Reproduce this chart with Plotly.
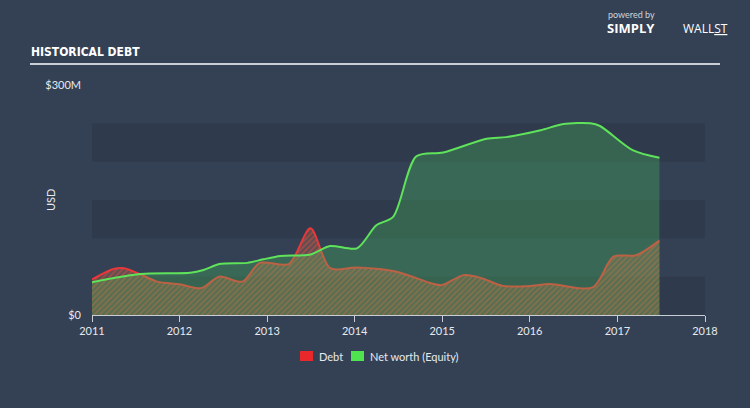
import plotly.graph_objects as go

# ---- data (USD millions) ----
debt_dates = ["2011-01-01", "2011-04-01", "2011-05-15", "2011-07-15", "2011-09-30",
              "2012-01-01", "2012-03-31", "2012-06-15", "2012-09-20", "2012-12-01",
              "2013-04-01", "2013-06-30", "2013-09-20", "2014-01-10", "2014-06-25",
              "2014-11-20", "2015-01-01", "2015-03-31", "2015-06-15", "2015-09-10",
              "2016-01-10", "2016-03-25", "2016-09-20", "2016-12-15", "2017-03-20",
              "2017-06-25"]
debt_values = [46.5, 60, 61, 54, 43.5,
               40, 35, 50, 43.5, 68,
               66.5, 113, 61, 62, 56.5,
               41, 39, 52, 48, 38,
               38, 40.5, 36, 76, 78,
               97]

equity_dates = ["2011-01-01", "2011-07-20", "2012-02-15", "2012-04-10", "2012-06-15",
                "2012-10-10", "2012-12-15", "2013-02-25", "2013-06-30", "2013-09-20",
                "2014-01-10", "2014-04-01", "2014-06-10", "2014-09-15", "2015-01-05",
                "2015-07-05", "2015-09-25", "2016-02-15", "2016-05-20", "2016-09-10",
                "2016-10-20", "2017-03-05", "2017-06-25"]
equity_values = [42.7, 53.5, 55, 58.7, 66.5,
                 68, 72.6, 77, 79, 90,
                 87, 117, 128, 207, 212,
                 230, 232, 241, 249, 250,
                 246.5, 215, 205]

year_ticks = ["2011", "2012", "2013", "2014", "2015", "2016", "2017", "2018"]
band_ranges = [(0, 50), (100, 150), (200, 250)]
legend_names = ["Debt", "Net worth (Equity)"]
legend_colors = ["#e8282a", "#4fe34f"]

BG = "#344154"
BAND = "#2f3b4c"
FONT = "Lato, 'Open Sans', sans-serif"
TXT = "#e6e9ee"

# plot area in pixels: x 92..705, y 85..315
PL, PR, PT, PB = 92, 705, 85, 315


def px(x):
    return (x - PL) / (PR - PL)


def py(y):
    return (PB - y) / (PB - PT)


fig = go.Figure()

fig.add_trace(go.Scatter(
    x=debt_dates, y=debt_values, name="Debt",
    mode="lines", line=dict(color="#e8383a", width=2, shape="spline", smoothing=0.8),
    fill="tozeroy", fillcolor="rgba(0,0,0,0)",
    fillpattern=dict(shape="/", fgcolor="rgba(228,80,62,0.9)", bgcolor="rgba(205,110,75,0.26)",
                     size=4, solidity=0.5),
    showlegend=False,
))
fig.add_trace(go.Scatter(
    x=equity_dates, y=equity_values, name="Net worth (Equity)",
    mode="lines", line=dict(color="#5ee35a", width=2, shape="spline", smoothing=0.8),
    fill="tozeroy", fillcolor="rgba(75,210,95,0.27)",
    showlegend=False,
))

shapes = []
for lo, hi in band_ranges:
    shapes.append(dict(type="rect", xref="paper", yref="y", x0=0, x1=1, y0=lo, y1=hi,
                       fillcolor=BAND, line=dict(width=0), layer="below"))
# title underline
shapes.append(dict(type="line", xref="paper", yref="paper", x0=px(30), x1=px(720),
                   y0=py(64), y1=py(64), line=dict(color="#c9ced6", width=2)))

annotations = [
    dict(text="<b>HISTORICAL DEBT</b>", xref="paper", yref="paper",
         x=px(29), y=py(52), xanchor="left", yanchor="middle", showarrow=False,
         font=dict(family="'DejaVu Sans Condensed', 'DejaVu Sans', sans-serif",
                   size=12, color="#ffffff")),
    dict(text="USD", xref="paper", yref="paper", x=px(50), y=py(200),
         xanchor="center", yanchor="middle", textangle=-90, showarrow=False,
         font=dict(size=11, color=TXT)),
    dict(text="powered by", xref="paper", yref="paper",
         x=px(606), y=py(14), xanchor="left", yanchor="middle",
         showarrow=False, font=dict(size=9, color="#d0d4da")),
    dict(text="<b>SIMPLY</b>", xref="paper", yref="paper",
         x=px(605), y=py(28), xanchor="left", yanchor="middle",
         showarrow=False, font=dict(family="'Open Sans', sans-serif", size=13, color="#ffffff")),
    dict(text="WALL<u>ST</u>", xref="paper", yref="paper",
         x=px(681), y=py(28), xanchor="left", yanchor="middle",
         showarrow=False, font=dict(family="'Open Sans', sans-serif", size=12, color="#ffffff")),
]

# custom legend
leg_x = [300, 351]
for i, (name, col) in enumerate(zip(legend_names, legend_colors)):
    shapes.append(dict(type="rect", xref="paper", yref="paper",
                       x0=px(leg_x[i]), x1=px(leg_x[i] + 13), y0=py(361), y1=py(351),
                       fillcolor=col, line=dict(width=0)))
    annotations.append(dict(text=name, xref="paper", yref="paper",
                            x=px(leg_x[i] + 17), y=py(356), xanchor="left", yanchor="middle",
                            showarrow=False, font=dict(size=11, color=TXT)))

fig.update_layout(
    width=750, height=408,
    margin=dict(l=PL, r=750 - PR, t=PT, b=408 - PB),
    paper_bgcolor=BG, plot_bgcolor=BG,
    font=dict(family=FONT, color=TXT, size=11),
    shapes=shapes,
    annotations=annotations,
    showlegend=False,
    xaxis=dict(
        type="date", range=["2011-01-01", "2018-01-01"],
        tickvals=[f"{y}-01-01" for y in year_ticks], ticktext=year_ticks,
        showgrid=False, zeroline=False,
        showline=True, linecolor="#c9ced6", linewidth=1,
        ticks="outside", ticklen=6, tickcolor="#c9ced6",
        tickfont=dict(size=11, color=TXT),
    ),
    yaxis=dict(
        range=[0, 300], tickvals=[0, 300], ticktext=["$0", "$300M"],
        showgrid=False, zeroline=False, showline=False,
        ticklabelstandoff=10,
        tickfont=dict(size=11, color=TXT),
    ),
)

fig.write_html("out.html", config={"displayModeBar": False},
               post_script="document.body.style.margin='0';document.body.style.background='" + BG + "';")
